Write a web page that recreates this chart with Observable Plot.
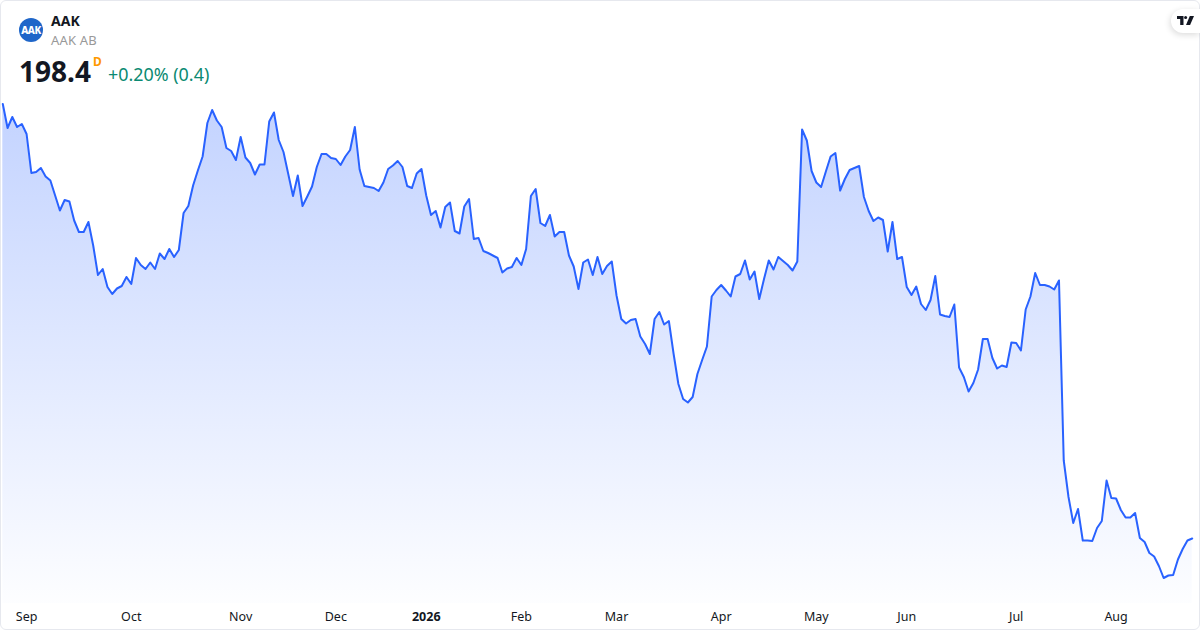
<!DOCTYPE html>
<html>
<head>
<meta charset="utf-8">
<script src="https://cdn.jsdelivr.net/npm/d3@7"></script>
<script src="https://cdn.jsdelivr.net/npm/@observablehq/plot@0.6"></script>
<style>
html,body{margin:0;padding:0;background:#fff;overflow:hidden;width:1200px;height:630px}
body{position:relative;font-family:"Noto Sans","Open Sans",sans-serif;color:#131722}
#chart{position:absolute;left:0;top:0}
#chart svg{display:block;background:transparent}
.frame{position:absolute;left:0;top:0;width:1198px;height:628px;border:1px solid #e6e8ee;border-radius:6px;pointer-events:none}
.t{position:absolute;white-space:nowrap;line-height:1}
.logo{position:absolute;left:19px;top:18px;width:24px;height:24px;border-radius:50%;background:#1f66c9;color:#fff;font-weight:800;font-size:10px;line-height:24px;text-align:center;letter-spacing:-.4px}
.tv{position:absolute;left:1171px;top:9px;width:29px;height:24px;background:#fff;border-radius:12px 0 0 12px;box-shadow:-1px 2px 6px rgba(0,0,0,.14)}
.tv svg{position:absolute;left:6px;top:7px}
</style>
</head>
<body>
<div id="chart"></div>
<div class="frame"></div>
<div class="logo">AAK</div>
<div class="t" style="left:51px;top:14px;font-size:14px;font-weight:700;color:#131722">AAK</div>
<div class="t" style="left:51px;top:34px;font-size:13px;color:#999;letter-spacing:.2px">AAK AB</div>
<div class="t" style="left:19px;top:57px;font-size:28px;font-weight:700;color:#131722">198.4</div>
<div class="t" style="left:93px;top:56px;font-size:12px;font-weight:700;color:#ff9800">D</div>
<div class="t" style="left:108px;top:66px;font-size:17.9px;color:#0b8a72">+0.20% (0.4)</div>
<div class="tv"><svg width="17" height="9" viewBox="0 0 17 9"><path d="M0 0h6.5v9H3.2V3H0z" fill="#131722"/><circle cx="8.6" cy="1.5" r="1.5" fill="#131722"/><path d="M12.8 0H17l-3.9 9H9z" fill="#131722"/></svg></div>
<script>
const prices = [
285.3,280.5,282.7,280.7,281.3,279.3,271.5,271.7,272.5,270.8,270.0,267.0,264.0,266.1,265.8,262.0,259.7,259.7,261.7,257.0,
251.1,252.3,248.7,247.3,248.4,248.9,250.7,249.3,254.5,253.1,252.3,253.6,252.3,255.4,254.3,256.3,254.7,256.1,263.5,264.9,
269.0,272.0,274.8,281.5,284.1,282.0,280.7,276.5,275.9,274.1,278.7,274.6,273.5,271.2,273.2,273.2,281.8,283.6,278.1,275.7,
271.3,266.9,271.0,264.9,266.8,268.8,272.7,275.3,275.3,274.5,274.3,273.1,274.8,276.1,280.7,272.2,268.9,268.7,268.5,267.9,
269.6,272.3,273.0,273.9,272.7,268.9,268.5,271.4,272.3,267.0,263.1,263.9,260.6,264.7,265.6,259.9,259.4,264.8,266.3,258.3,
258.5,255.9,255.5,255.0,254.5,251.6,252.4,252.7,254.5,253.1,256.3,266.9,268.3,261.5,260.9,263.1,258.8,259.7,259.7,255.0,
252.8,248.3,253.6,254.2,251.1,254.7,251.3,252.9,253.8,247.0,242.3,241.4,242.1,242.3,238.8,237.3,235.3,242.3,243.7,241.2,
241.9,235.3,229.3,226.3,225.6,226.7,231.3,234.1,236.8,246.8,248.1,249.1,248.0,246.8,250.8,251.3,254.0,250.2,251.8,246.3,
250.3,254.0,252.2,254.7,253.9,253.1,252.0,253.8,280.2,278.0,271.9,269.6,268.7,271.8,274.8,275.5,268.0,270.3,272.1,272.5,
272.9,266.7,263.9,261.9,262.6,262.1,255.8,261.7,254.3,254.7,248.7,247.1,248.8,245.3,244.1,246.1,250.9,243.2,242.9,242.7,
245.2,232.6,230.7,227.8,229.5,232.2,238.3,238.3,234.5,232.4,233.0,232.7,237.6,237.5,236.0,244.2,246.8,251.5,249.1,249.1,
248.8,248.2,250.0,214.0,206.7,201.5,204.3,198.0,198.0,197.9,200.5,201.9,210.0,206.5,206.4,204.1,202.6,202.6,203.5,198.5,
197.7,195.5,194.8,192.9,190.5,191.0,191.1,194.2,196.3,198.0,198.4
];
const monthTicks = [5,27,50,70,109,129,151,171,190,213,234];
const monthLabels = ["Sep","Oct","Nov","Dec","Feb","Mar","Apr","May","Jun","Jul","Aug"];
const yearTicks = [89];
const yearLabels = ["2026"];
const priceFloor = 185.4, priceCeil = 306;
const rows = prices.map((price, i) => ({i, price}));
const label = (ticks, labels) => d => labels[ticks.indexOf(d)];

const chart = Plot.plot({
  width: 1200, height: 630,
  marginTop: 0, marginLeft: 0, marginRight: 0, marginBottom: 27,
  style: {background: "transparent", fontFamily: '"Noto Sans","Open Sans",sans-serif', fontSize: "12.5px"},
  x: {domain: [0, 250], range: [2.3, 1191.7], axis: null},
  y: {domain: [priceFloor, priceCeil], range: [603, 0], axis: null},
  marks: [
    Plot.areaY(rows, {x: "i", y1: () => priceFloor, y2: "price", fill: "url(#areaFade)", curve: "linear"}),
    Plot.lineY(rows, {x: "i", y: "price", stroke: "#2962ff", strokeWidth: 2, curve: "linear", strokeLinejoin: "round"}),
    Plot.axisX(monthTicks, {anchor: "bottom", tickSize: 0, tickPadding: 9, tickFormat: label(monthTicks, monthLabels), fill: "#131722", label: null}),
    Plot.axisX(yearTicks, {anchor: "bottom", tickSize: 0, tickPadding: 9, tickFormat: label(yearTicks, yearLabels), fill: "#131722", fontWeight: "bold", label: null})
  ]
});
const defs = d3.select(chart).insert("defs", ":first-child");
const grad = defs.append("linearGradient").attr("id", "areaFade").attr("x1", 0).attr("x2", 0).attr("y1", 0).attr("y2", 1);
grad.append("stop").attr("offset", 0).attr("stop-color", "#2962ff").attr("stop-opacity", 0.28);
grad.append("stop").attr("offset", 1).attr("stop-color", "#2962ff").attr("stop-opacity", 0.01);
document.getElementById("chart").appendChild(chart);
</script>
</body>
</html>
